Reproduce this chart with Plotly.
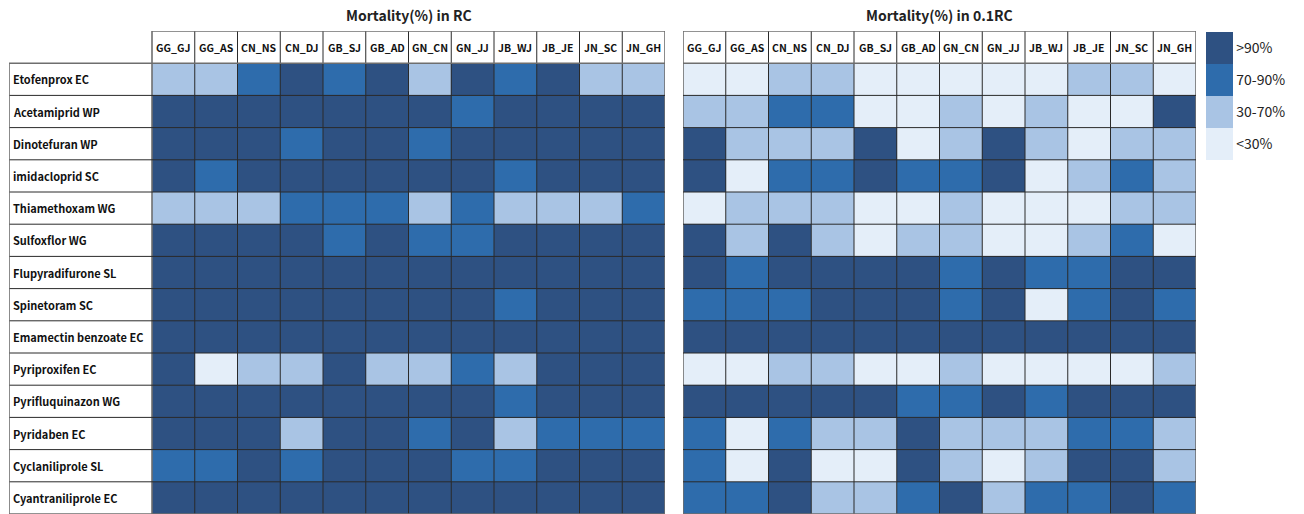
import plotly.graph_objects as go

cols = ["GG_GJ", "GG_AS", "CN_NS", "CN_DJ", "GB_SJ", "GB_AD", "GN_CN", "GN_JJ", "JB_WJ", "JB_JE", "JN_SC", "JN_GH"]
rows = ["Etofenprox EC", "Acetamiprid WP", "Dinotefuran WP", "imidacloprid SC", "Thiamethoxam WG",
        "Sulfoxflor WG", "Flupyradifurone SL", "Spinetoram SC", "Emamectin benzoate EC", "Pyriproxifen EC",
        "Pyrifluquinazon WG", "Pyridaben EC", "Cyclaniliprole SL", "Cyantraniliprole EC"]

# mortality class: 0 = <30%, 1 = 30-70%, 2 = 70-90%, 3 = >90%
class_labels = ["<30%", "30-70%", "70-90%", ">90%"]

mort_rc = [
    [1, 1, 2, 3, 2, 3, 1, 3, 2, 3, 1, 1],
    [3, 3, 3, 3, 3, 3, 3, 2, 3, 3, 3, 3],
    [3, 3, 3, 2, 3, 3, 2, 3, 3, 3, 3, 3],
    [3, 2, 3, 3, 3, 3, 3, 3, 2, 3, 3, 3],
    [1, 1, 1, 2, 2, 2, 1, 2, 1, 1, 1, 2],
    [3, 3, 3, 3, 2, 3, 2, 2, 3, 3, 3, 3],
    [3, 3, 3, 3, 3, 3, 3, 3, 3, 3, 3, 3],
    [3, 3, 3, 3, 3, 3, 3, 3, 2, 3, 3, 3],
    [3, 3, 3, 3, 3, 3, 3, 3, 3, 3, 3, 3],
    [3, 0, 1, 1, 3, 1, 1, 2, 1, 3, 3, 3],
    [3, 3, 3, 3, 3, 3, 3, 3, 2, 3, 3, 3],
    [3, 3, 3, 1, 3, 3, 2, 3, 1, 2, 2, 2],
    [2, 2, 3, 2, 3, 3, 3, 2, 2, 3, 3, 3],
    [3, 3, 3, 3, 3, 3, 3, 3, 3, 3, 3, 3],
]

mort_01rc = [
    [0, 0, 1, 1, 0, 0, 0, 0, 0, 1, 1, 0],
    [1, 1, 2, 2, 0, 0, 1, 0, 1, 0, 0, 3],
    [3, 1, 1, 1, 3, 0, 1, 3, 1, 0, 1, 1],
    [3, 0, 2, 2, 3, 2, 2, 3, 0, 1, 2, 1],
    [0, 1, 1, 1, 0, 0, 1, 0, 0, 0, 1, 1],
    [3, 1, 3, 1, 0, 1, 1, 0, 0, 1, 2, 0],
    [3, 2, 3, 3, 3, 3, 2, 3, 2, 2, 3, 3],
    [2, 2, 2, 3, 3, 3, 2, 3, 0, 2, 3, 2],
    [3, 3, 3, 3, 3, 3, 3, 3, 3, 3, 3, 3],
    [0, 0, 1, 1, 0, 0, 1, 0, 0, 0, 0, 1],
    [3, 3, 3, 3, 3, 2, 2, 3, 2, 3, 3, 3],
    [2, 0, 2, 1, 1, 3, 1, 1, 1, 2, 2, 1],
    [2, 0, 3, 0, 0, 3, 1, 0, 1, 3, 3, 1],
    [2, 2, 3, 1, 1, 2, 3, 1, 2, 2, 3, 2],
]

titles = ["Mortality(%) in RC", "Mortality(%) in 0.1RC"]

colors = ["#E4EEF9", "#A9C4E4", "#2E6CAC", "#2E5182"]
FONT = "Malgun Gothic, Noto Sans CJK KR, Noto Sans, sans-serif"

W, H = 1304, 514
nC, nR = len(cols), len(rows)
label_w = 3.345  # label column width in cell units

cs = []
for i, c in enumerate(colors):
    cs.append([i / 4, c])
    cs.append([(i + 1) / 4, c])

fig = go.Figure()
for k, z in enumerate([mort_rc, mort_01rc]):
    fig.add_trace(go.Heatmap(
        z=z, x=cols, y=rows, coloraxis="coloraxis",
        xaxis="x" if k == 0 else "x2", yaxis="y" if k == 0 else "y2",
        hovertemplate="%{y}<br>%{x}<extra></extra>",
    ))

shapes = []
annotations = []
inner = dict(color="#2a2a2a", width=1)
outer = dict(color="#6e6e6e", width=1.6)
for k in range(2):
    xr = "x" if k == 0 else "x2"
    yr = "y" if k == 0 else "y2"
    xl = -0.5 - label_w if k == 0 else -0.5
    for i in range(nC + 1):
        shapes.append(dict(type="line", xref=xr, yref=yr, x0=i - 0.5, x1=i - 0.5,
                           y0=-1.5, y1=nR - 0.5, line=outer if i in (0, nC) else inner, layer="above"))
    shapes.append(dict(type="line", xref=xr, yref=yr, x0=-0.5, x1=nC - 0.5, y0=-1.5, y1=-1.5,
                       line=outer, layer="above"))
    for j in range(nR + 1):
        shapes.append(dict(type="line", xref=xr, yref=yr, x0=xl, x1=nC - 0.5,
                           y0=j - 0.5, y1=j - 0.5, line=outer if j in (0, nR) else inner, layer="above"))
    if k == 0:
        shapes.append(dict(type="line", xref=xr, yref=yr, x0=xl, x1=xl, y0=-0.5, y1=nR - 0.5,
                           line=outer, layer="above"))
        for r in rows:
            annotations.append(dict(xref=xr, yref=yr, x=xl, y=r, text="<b>" + r + "</b>", showarrow=False,
                                    xanchor="left", xshift=2,
                                    font=dict(family=FONT, size=11, color="#111")))
    for c in cols:
        annotations.append(dict(xref=xr, yref=yr, x=c, y=-1, text="<b>" + c + "</b>", showarrow=False,
                                font=dict(family=FONT, size=10.5, color="#111")))
    annotations.append(dict(xref=xr, yref="paper", x=(nC - 1) / 2, y=1 - 15 / H,
                            text="<b>" + titles[k] + "</b>",
                            showarrow=False, yanchor="middle",
                            font=dict(family=FONT, size=14, color="#222")))

ax_common = dict(showgrid=False, zeroline=False, showticklabels=False, ticks="", showline=False)
fig.update_layout(
    width=W, height=H,
    margin=dict(l=0, r=0, t=0, b=0),
    paper_bgcolor="white", plot_bgcolor="white",
    xaxis=dict(domain=[9 / W, 665 / W], range=[-0.5 - label_w, nC - 0.5], **ax_common),
    xaxis2=dict(domain=[683 / W, 1196 / W], range=[-0.5, nC - 0.5], **ax_common),
    yaxis=dict(domain=[0, 1 - 31 / H], range=[nR - 0.5, -1.5], **ax_common),
    yaxis2=dict(domain=[0, 1 - 31 / H], range=[nR - 0.5, -1.5], anchor="x2", **ax_common),
    coloraxis=dict(
        colorscale=cs, cmin=-0.5, cmax=3.5,
        colorbar=dict(
            x=1206 / W, xanchor="left", xref="paper", xpad=0, ypad=0,
            y=1 - 32 / H, yanchor="top", yref="paper",
            len=128, lenmode="pixels", thickness=27, thicknessmode="pixels",
            outlinewidth=0, ticks="", ticklen=0,
            tickvals=[0, 1, 2, 3], ticktext=class_labels,
            tickfont=dict(family=FONT, size=14, color="#222"),
        ),
    ),
    shapes=shapes,
    annotations=annotations,
    showlegend=False,
)

fig.write_html("out.html")
